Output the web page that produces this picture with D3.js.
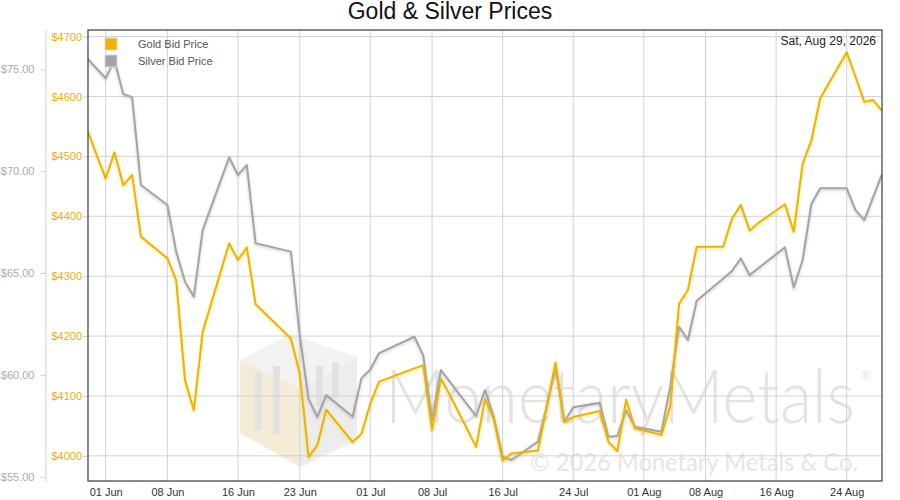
<!DOCTYPE html>
<html lang="en">
<head>
<meta charset="UTF-8">
<script src="https://cdnjs.cloudflare.com/ajax/libs/d3/7.8.5/d3.min.js"></script>
<title>Gold & Silver Prices</title>
<style>
    body { margin: 0; background: #fff; }
    svg { display: block; font-family: "Liberation Sans", Arial, sans-serif; }
</style>
</head>
<body>
<svg id="chart" width="900" height="500"></svg>
<script>
// trading days (Jun 19 and Jul 3 are market holidays)
var dates = [
    "2026-05-29", "2026-06-01", "2026-06-02", "2026-06-03", "2026-06-04", "2026-06-05",
    "2026-06-08", "2026-06-09", "2026-06-10", "2026-06-11", "2026-06-12",
    "2026-06-15", "2026-06-16", "2026-06-17", "2026-06-18",
    "2026-06-22", "2026-06-23", "2026-06-24", "2026-06-25", "2026-06-26",
    "2026-06-29", "2026-06-30", "2026-07-01", "2026-07-02",
    "2026-07-06", "2026-07-07", "2026-07-08", "2026-07-09", "2026-07-10",
    "2026-07-13", "2026-07-14", "2026-07-15", "2026-07-16", "2026-07-17",
    "2026-07-20", "2026-07-21", "2026-07-22", "2026-07-23", "2026-07-24",
    "2026-07-27", "2026-07-28", "2026-07-29", "2026-07-30", "2026-07-31",
    "2026-08-03", "2026-08-04", "2026-08-05", "2026-08-06", "2026-08-07",
    "2026-08-10", "2026-08-11", "2026-08-12", "2026-08-13", "2026-08-14",
    "2026-08-17", "2026-08-18", "2026-08-19", "2026-08-20", "2026-08-21",
    "2026-08-24", "2026-08-25", "2026-08-26", "2026-08-27", "2026-08-28"
];
var goldPrices = [
    4580, 4463, 4507, 4452, 4469, 4366,
    4330, 4293, 4126, 4076, 4207,
    4355, 4327, 4348, 4253,
    4196, 4138, 3998, 4018, 4077,
    4023, 4037, 4087, 4124,
    4146, 4151, 4043, 4129, 4102,
    4015, 4095, 4061, 3992, 4004,
    4009, 4082, 4156, 4057, 4065,
    4075, 4023, 4008, 4094, 4046,
    4035, 4083, 4254, 4277, 4349,
    4349, 4396, 4419, 4376, 4389,
    4420, 4374, 4487, 4527, 4597,
    4674, 4633, 4591, 4594, 4576
];
var silverPrices = [
    75.96, 74.56, 75.45, 73.79, 73.63, 69.32,
    68.34, 66.05, 64.57, 63.84, 67.11,
    70.68, 69.81, 70.30, 66.46,
    66.05, 61.96, 58.82, 57.94, 59.01,
    57.94, 59.84, 60.26, 61.07,
    61.87, 60.95, 57.80, 60.24, 59.67,
    57.98, 59.26, 57.95, 55.98, 55.82,
    56.72, 58.46, 60.32, 57.70, 58.41,
    58.63, 56.96, 57.00, 58.27, 57.45,
    57.21, 59.42, 62.36, 61.71, 63.64,
    64.73, 65.10, 65.72, 64.90, 65.25,
    66.26, 64.29, 65.64, 68.39, 69.16,
    69.16, 68.09, 67.60, 68.73, 69.86
];
var goldTicks = [4000, 4100, 4200, 4300, 4400, 4500, 4600, 4700];
var silverTicks = [55, 60, 65, 70, 75];
var dateTicks = ["2026-06-01", "2026-06-08", "2026-06-16", "2026-06-23", "2026-07-01", "2026-07-08",
                 "2026-07-16", "2026-07-24", "2026-08-01", "2026-08-08", "2026-08-16", "2026-08-24"];
var seriesNames = ["Gold Bid Price", "Silver Bid Price"];
var asOfLabel = "Sat, Aug 29, 2026";

var goldColor = "#eeb300";
var silverColor = "#a4a4a4";

var parse = d3.timeParse("%Y-%m-%d");
var svg = d3.select("#chart");
var plotL = 88, plotR = 882, plotT = 30, plotB = 481;

var x = d3.scaleTime()
    .domain([parse("2026-05-30"), parse("2026-08-28")])
    .range([plotL, plotR]);
var yGold = d3.scaleLinear().domain([3958, 4711]).range([plotB, plotT]);
var ySilver = d3.scaleLinear().domain([54.79, 76.93]).range([plotB, plotT]);

var defs = svg.append("defs");
defs.append("clipPath").attr("id", "plotClip")
    .append("rect").attr("x", plotL).attr("y", plotT).attr("width", plotR - plotL).attr("height", plotB - plotT);
function shadow(id, color, op) {
    defs.append("filter").attr("id", id)
        .attr("x", "-10%").attr("y", "-10%").attr("width", "120%").attr("height", "130%")
        .append("feDropShadow")
        .attr("dx", 0).attr("dy", 1.5).attr("stdDeviation", 1.6)
        .attr("flood-color", color).attr("flood-opacity", op);
}
shadow("goldGlow", "#f2c200", 0.45);
shadow("silverGlow", "#777", 0.35);

// title
svg.append("text")
    .attr("x", 450).attr("y", 19)
    .attr("text-anchor", "middle")
    .style("font-size", "23px").style("fill", "#111")
    .text("Gold & Silver Prices");

// watermark
var wm = svg.append("g").attr("clip-path", "url(#plotClip)");
wm.append("polygon").attr("points", "240,360 290,334 357,357 300,388").style("fill", "#f3f3f3");
wm.append("polygon").attr("points", "240,360 300,388 300,467 240,433").style("fill", "#f4ecd6");
wm.append("polygon").attr("points", "300,388 357,357 357,440 300,467").style("fill", "#ededed");
[[255, 372, 58], [273, 366, 68], [316, 366, 40], [332, 362, 36]].forEach(function (b) {
    wm.append("rect").attr("x", b[0]).attr("y", b[1]).attr("width", 7).attr("height", b[2])
        .style("fill", "#e2e2e2");
});
wm.append("text")
    .attr("x", 385).attr("y", 423)
    .attr("textLength", 470).attr("lengthAdjust", "spacingAndGlyphs")
    .style("font-family", "Lato, 'Open Sans', sans-serif").style("font-weight", 300)
    .style("font-size", "74px").style("fill", "#e3e3e3")
    .text("MonetaryMetals");
wm.append("text")
    .attr("x", 866).attr("y", 380).attr("text-anchor", "middle")
    .style("font-size", "12px").style("fill", "#e3e3e3")
    .text("®");
wm.append("text")
    .attr("x", 858).attr("y", 471).attr("text-anchor", "end")
    .attr("textLength", 328).attr("lengthAdjust", "spacingAndGlyphs")
    .style("font-family", "Lato, 'Open Sans', sans-serif")
    .style("font-size", "25px").style("fill", "#e6e6e6")
    .text("© 2026 Monetary Metals & Co.");

// grid
svg.append("g").selectAll("line").data(goldTicks).enter().append("line")
    .attr("x1", plotL).attr("x2", plotR)
    .attr("y1", d => yGold(d)).attr("y2", d => yGold(d))
    .style("stroke", "#d2d2d2").style("stroke-width", 1);
svg.append("g").selectAll("line").data(dateTicks).enter().append("line")
    .attr("x1", d => x(parse(d))).attr("x2", d => x(parse(d)))
    .attr("y1", plotT).attr("y2", plotB)
    .style("stroke", "#d2d2d2").style("stroke-width", 1);

// axes
var goldAxis = svg.append("g")
    .attr("transform", "translate(" + plotL + ",0)")
    .call(d3.axisLeft(yGold).tickValues(goldTicks).tickSize(5).tickPadding(1).tickFormat(d => "$" + d));
goldAxis.select(".domain").remove();
goldAxis.selectAll("line").style("stroke", "#ccc");
goldAxis.selectAll("text").style("fill", "#e8b000").style("font-size", "11px").style("font-family", null);

var silverAxis = svg.append("g")
    .attr("transform", "translate(45.5,0)")
    .call(d3.axisLeft(ySilver).tickValues(silverTicks).tickSize(5).tickSizeOuter(0).tickPadding(6)
        .tickFormat(d => "$" + d.toFixed(2)));
silverAxis.select(".domain").style("stroke", "#ccc");
silverAxis.selectAll("line").style("stroke", "#ccc");
silverAxis.selectAll("text").style("fill", "#aaa").style("font-size", "11px").style("font-family", null);

var xAxis = svg.append("g")
    .attr("transform", "translate(0," + plotB + ")")
    .call(d3.axisBottom(x).tickValues(dateTicks.map(parse)).tickSize(0).tickPadding(7)
        .tickFormat(d3.timeFormat("%d %b")));
xAxis.select(".domain").remove();
xAxis.selectAll("text").style("fill", "#333").style("font-size", "11px").style("font-family", null);

// lines
var goldData = dates.map((d, i) => ({ date: parse(d), value: goldPrices[i] }));
var silverData = dates.map((d, i) => ({ date: parse(d), value: silverPrices[i] }));

var plot = svg.append("g").attr("clip-path", "url(#plotClip)");
plot.append("path").datum(silverData)
    .attr("d", d3.line().x(d => x(d.date)).y(d => ySilver(d.value)))
    .attr("filter", "url(#silverGlow)")
    .style("fill", "none").style("stroke", silverColor).style("stroke-width", 2)
    .style("stroke-linejoin", "round");
plot.append("path").datum(goldData)
    .attr("d", d3.line().x(d => x(d.date)).y(d => yGold(d.value)))
    .attr("filter", "url(#goldGlow)")
    .style("fill", "none").style("stroke", goldColor).style("stroke-width", 2)
    .style("stroke-linejoin", "round");

// frame
svg.append("rect")
    .attr("x", plotL).attr("y", plotT).attr("width", plotR - plotL).attr("height", plotB - plotT)
    .style("fill", "none").style("stroke", "#4a4a4a").style("stroke-width", 1.3);

// legend
var legend = svg.append("g");
[goldColor, silverColor].forEach(function (c, i) {
    legend.append("rect")
        .attr("x", 105).attr("y", 38 + i * 17).attr("width", 12).attr("height", 12)
        .style("fill", c).style("stroke", "#d8d8d8").style("stroke-width", 1);
    legend.append("text")
        .attr("x", 138).attr("y", 44 + i * 17).attr("dy", "0.35em")
        .style("font-size", "11px").style("fill", "#555")
        .text(seriesNames[i]);
});

svg.append("text")
    .attr("x", 876).attr("y", 45).attr("text-anchor", "end")
    .style("font-size", "12px").style("fill", "#222")
    .text(asOfLabel);
</script>
</body>
</html>
